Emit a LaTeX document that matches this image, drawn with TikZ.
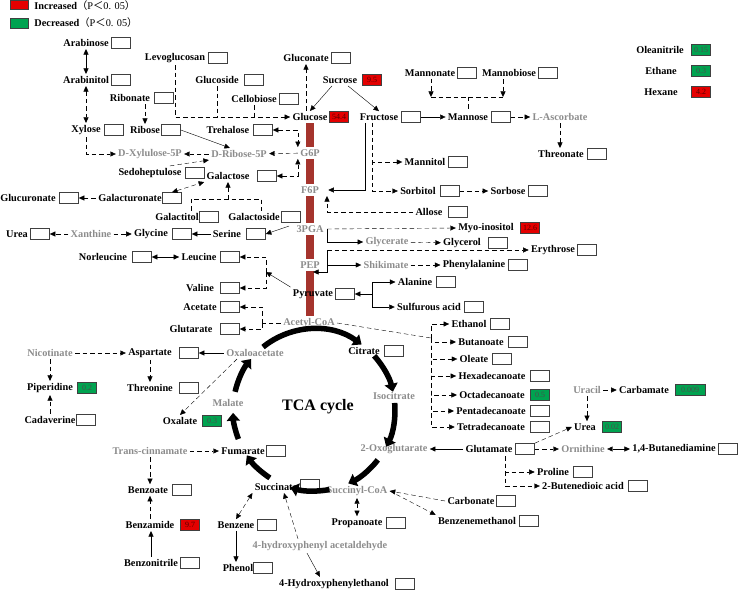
\documentclass[tikz,border=0pt]{standalone}
\usepackage{fontspec}
\setmainfont{Liberation Serif}
\newfontfamily\cjk{Noto Sans CJK SC}
\usetikzlibrary{arrows.meta,calc}
\pgfdeclarelayer{back}
\pgfsetlayers{back,main}

\definecolor{upred}{RGB}{228,0,0}
\definecolor{downgreen}{RGB}{0,163,80}
\definecolor{barred}{RGB}{165,52,45}

\tikzset{
  met/.style={font=\bfseries\fontsize{10.3}{12}\selectfont, inner sep=2pt},
  inter/.style={met, text=black!45},
  val/.style={draw=black!75, line width=0.6pt, minimum width=19pt, minimum height=11pt, inner sep=1pt, font=\fontsize{8}{9}\selectfont},
  up/.style={val, fill=upred, text=red!35!black},
  down/.style={val, fill=downgreen, text=black!70},
  dsh/.style={dash pattern=on 4.5pt off 3pt},
  bar/.style={line width=8pt, draw=barred},
  tca/.style={line width=5.5pt, -{Triangle[length=8pt,width=13pt]}},
}

\begin{document}
\begin{tikzpicture}[x=1pt,y=-1pt,line width=0.85pt,>={Triangle[length=5.5pt,width=5pt]}]
  \useasboundingbox (0,0) rectangle (739,591);
  % legend
  \node[up,minimum width=18pt,minimum height=9pt] (incsw) at (19,5) {};
  \node[met,anchor=west] (inc) at (32,6) {Increased{\mdseries{\cjk （}P{\cjk ＜}0. 05{\cjk ）}}};
  \node[down,minimum width=18pt,minimum height=10pt] (decsw) at (19,23) {};
  \node[met,anchor=west] (dec) at (32,23) {Decreased{\mdseries{\cjk （}P{\cjk ＜}0. 05{\cjk ）}}};
  % sugars
  \node[met] (arab) at (86,43) {Arabinose};
  \node[val] (arabv) at (121,43) {};
  \node[met] (levo) at (175,58) {Levoglucosan};
  \node[val] (levov) at (218,58) {};
  \node[met] (arabol) at (86,80) {Arabinitol};
  \node[val] (arabolv) at (121,80) {};
  \node[met] (glcs) at (217,80) {Glucoside};
  \node[val] (glcsv) at (254,80) {};
  \node[met] (ribn) at (130,98) {Ribonate};
  \node[val] (ribnv) at (164,98) {};
  \node[met] (cello) at (254,99) {Cellobiose};
  \node[val] (cellov) at (289,99) {};
  \node[met] (xyl) at (86,130) {Xylose};
  \node[val] (xylv) at (114,130) {};
  \node[met] (rib) at (145,130) {Ribose};
  \node[val] (ribv) at (171,130) {};
  \node[met] (treh) at (228,130) {Trehalose};
  \node[val] (trehv) at (263,130) {};
  \node[met] (glcn) at (306,58) {Gluconate};
  \node[val] (glcnv) at (341,58) {};
  \node[met] (suc) at (340,80) {Sucrose};
  \node[up] (sucv) at (372,80) {9.5};
  \node[met] (glc) at (310,117) {Glucose};
  \node[up] (glcv) at (339,117) {54.4};
  \node[met] (fru) at (379,117) {Fructose};
  \node[val] (fruv) at (411,117) {};
  \node[met] (man) at (468,117) {Mannose};
  \node[val] (manv) at (501,117) {};
  \node[inter] (asc) at (560,117) {L-Ascorbate};
  \node[met] (mann) at (430,73) {Mannonate};
  \node[val] (mannv) at (467,73) {};
  \node[met] (manb) at (509,73) {Mannobiose};
  \node[val] (manbv) at (548,73) {};
  \node[met] (thrn) at (561,154) {Threonate};
  \node[val] (thrnv) at (597,154) {};
  \node[met] (olea) at (660,50) {Oleanitrile};
  \node[down] (oleav) at (701,50) {0.15};
  \node[met] (eth) at (661,71) {Ethane};
  \node[down] (ethv) at (701,71) {0.3};
  \node[met] (hex) at (661,92) {Hexane};
  \node[up] (hexv) at (701,92) {4.2};
  % glycolysis
  \node[inter] (g6p) at (310,153) {G6P};
  \node[inter] (f6p) at (310,190) {F6P};
  \node[inter] (pga) at (310,229) {3PGA};
  \node[inter] (pep) at (310,265) {PEP};
  \node[inter] (acoa) at (309,323) {Acetyl-CoA};
  \node[inter] (xu5p) at (150,154) {D-Xylulose-5P};
  \node[inter] (r5p) at (239,154) {D-Ribose-5P};
  \node[met] (sedo) at (150,173) {Sedoheptulose};
  \node[val] (sedov) at (195,173) {};
  \node[met] (gal) at (228,176) {Galactose};
  \node[val] (galv) at (267,176) {};
  \node[met] (glcu) at (28,198) {Glucuronate};
  \node[val] (glcuv) at (69,198) {};
  \node[met] (galu) at (130,198) {Galacturonate};
  \node[val] (galuv) at (172,198) {};
  \node[met] (galol) at (177,217) {Galactitol};
  \node[val] (galolv) at (209,217) {};
  \node[met] (gals) at (254,217) {Galactoside};
  \node[val] (galsv) at (291,217) {};
  \node[met] (mtol) at (425,162) {Mannitol};
  \node[val] (mtolv) at (458,162) {};
  \node[met] (stol) at (418,191) {Sorbitol};
  \node[val] (stolv) at (450,191) {};
  \node[met] (sorb) at (508,191) {Sorbose};
  \node[val] (sorbv) at (538,191) {};
  \node[met] (allo) at (429,212) {Allose};
  \node[val] (allov) at (458,212) {};
  % amino acids
  \node[met] (ser) at (227,234) {Serine};
  \node[val] (serv) at (256,234) {};
  \node[met] (gly) at (151,234) {Glycine};
  \node[val] (glyv) at (182,234) {};
  \node[inter] (xan) at (91,234) {Xanthine};
  \node[met] (urea) at (17,234) {Urea};
  \node[val] (ureav) at (40,234) {};
  \node[met] (nleu) at (103,257) {Norleucine};
  \node[val] (nleuv) at (142,257) {};
  \node[met] (leu) at (199,257) {Leucine};
  \node[val] (leuv) at (230,257) {};
  \node[met] (vali) at (200,288) {Valine};
  \node[val] (valiv) at (230,288) {};
  \node[met] (acet) at (200,307) {Acetate};
  \node[val] (acetv) at (230,307) {};
  \node[met] (glut) at (191,329) {Glutarate};
  \node[val] (glutv) at (230,329) {};
  \node[met] (pyr) at (313,294) {Pyruvate};
  \node[val] (pyrv) at (345,294) {};
  \node[met] (myo) at (486,228) {Myo-inositol};
  \node[up] (myov) at (530,228) {12.6};
  \node[inter] (glyc) at (387,242) {Glycerate};
  \node[met] (glyl) at (462,243) {Glycerol};
  \node[val] (glylv) at (498,243) {};
  \node[met] (ery) at (553,250) {Erythrose};
  \node[val] (eryv) at (587,250) {};
  \node[inter] (shik) at (386,265) {Shikimate};
  \node[met] (phe) at (474,265) {Phenylalanine};
  \node[val] (phev) at (518,265) {};
  \node[met] (ala) at (415,282) {Alanine};
  \node[val] (alav) at (446,282) {};
  \node[met] (sulf) at (429,307) {Sulfurous acid};
  \node[val] (sulfv) at (474,307) {};
  % fatty acids
  \node[met] (etoh) at (469,324) {Ethanol};
  \node[val] (etohv) at (500,324) {};
  \node[met] (buta) at (481,342) {Butanoate};
  \node[val] (butav) at (518,342) {};
  \node[met] (olet) at (474,359) {Oleate};
  \node[val] (oletv) at (502,359) {};
  \node[met] (c16) at (492,376) {Hexadecanoate};
  \node[val] (c16v) at (540,376) {};
  \node[met] (c18) at (492,395) {Octadecanoate};
  \node[down] (c18v) at (540,395) {0.5};
  \node[met] (c15) at (491,411) {Pentadecanoate};
  \node[val] (c15v) at (540,411) {};
  \node[met] (c14) at (491,427) {Tetradecanoate};
  \node[val] (c14v) at (540,427) {};
  % TCA cycle
  \node[met] (cit) at (364,351) {Citrate};
  \node[val] (citv) at (394,351) {};
  \node[inter] (icit) at (394,396) {Isocitrate};
  \node[inter] (oxg) at (394,449) {2-Oxoglutarate};
  \node[met] (glu) at (489,449) {Glutamate};
  \node[val] (gluv) at (525,449) {};
  \node[inter] (orn) at (583,449) {Ornithine};
  \node[met] (put) at (674,449) {1,4-Butanediamine};
  \node[val] (putv) at (728,449) {};
  \node[met] (pro) at (553,472) {Proline};
  \node[val] (prov) at (583,472) {};
  \node[met] (bda) at (583,486) {2-Butenedioic acid};
  \node[val] (bdav) at (638,486) {};
  \node[met] (urea2) at (585,427) {Urea};
  \node[down] (urea2v) at (612,427) {0.02};
  \node[inter] (ura) at (587,390) {Uracil};
  \node[met] (carb) at (644,390) {Carbamate};
  \node[down,minimum width=30pt] (carbv) at (690,390) {0.009};
  \node[inter] (oaa) at (255,353) {Oxaloacetate};
  \node[met] (asp) at (150,353) {Aspartate};
  \node[val] (aspv) at (189,353) {};
  \node[inter] (nic) at (50,353) {Nicotinate};
  \node[met] (pip) at (50,388) {Piperidine};
  \node[down] (pipv) at (87,388) {0.2};
  \node[met] (cad) at (50,420) {Cadaverine};
  \node[val] (cadv) at (86,420) {};
  \node[met] (thr) at (150,388) {Threonine};
  \node[val] (thrv) at (189,388) {};
  \node[met] (oxa) at (180,421) {Oxalate};
  \node[down] (oxav) at (212,421) {0.3};
  \node[inter] (mal) at (228,403) {Malate};
  \node[met,font=\bfseries\fontsize{16}{18}\selectfont] (tcal) at (318,407) {TCA cycle};
  \node[inter] (cinn) at (150,451) {Trans-cinnamate};
  \node[met] (fum) at (243,451) {Fumarate};
  \node[val] (fumv) at (276,451) {};
  \node[met] (bzt) at (148,490) {Benzoate};
  \node[val] (bztv) at (182,490) {};
  \node[met] (bzm) at (150,525) {Benzamide};
  \node[up] (bzmv) at (190,525) {9.7};
  \node[met] (bzn) at (151,563) {Benzonitrile};
  \node[val] (bznv) at (190,563) {};
  \node[met] (succ) at (276,487) {Succinate};
  \node[val] (succv) at (310,485) {};
  \node[inter] (scoa) at (357,491) {Succinyl-CoA};
  \node[met] (bzl) at (236,525) {Benzene};
  \node[val] (bzlv) at (267,525) {};
  \node[met] (phen) at (238,568) {Phenol};
  \node[val] (phenv) at (263,568) {};
  \node[inter] (hpa) at (320,546) {4-hydroxyphenyl acetaldehyde};
  \node[met] (hpe) at (334,584) {4-Hydroxyphenylethanol};
  \node[val] (hpev) at (405,584) {};
  \node[met] (prop) at (357,523) {Propanoate};
  \node[val] (propv) at (396,523) {};
  \node[met] (carbo) at (471,501) {Carbonate};
  \node[val] (carbov) at (506,501) {};
  \node[met] (bzoh) at (477,521) {Benzenemethanol};
  \node[val] (bzohv) at (529,521) {};

  % glycolysis bar
  \begin{pgfonlayer}{back}
    \draw[bar] (glc.south) -- (g6p.north);
    \draw[bar] (g6p.south) -- (f6p.north);
    \draw[bar] (f6p.south) -- (pga.north);
    \draw[bar] (pga.south) -- (pep.north);
    \draw[bar] (pep.south) -- (pep.south |- acoa.north);
  \end{pgfonlayer}

  % sugar connectors
  \draw[<->] (arab) -- (arabol);
  \draw[<->,dsh] (arabol) -- (xyl);
  \draw[->,dsh] (xyl.south) |- (xu5p.west);
  \draw[->,dsh] (rib.north |- ribn.south) -- (rib.north);
  \draw[->] (ribv.east) -- ($(r5p.north west)!.35!(r5p.north east)$);
  \draw[->,dsh] (levo.south) |- (glc.west);
  \draw[dsh] (glcs.south) -- (glcs.south |- glc.west);
  \draw[dsh] (cello.south) -- (cello.south |- glc.west);
  \draw[->,dsh] (glcn.south |- glc.north) -- (glcn.south);
  \draw[->] ($(suc.south)+(-8,0)$) -- (glc.north);
  \draw[->] ($(suc.south)+(8,0)$) -- (fru.north);
  \draw[->] (fruv) -- (man);
  \draw[->,dsh] (manv) -- (asc);
  \draw[->,dsh] (asc.south) -- (asc.south |- thrn.north);
  \coordinate (mj1) at (431,97);
  \coordinate (mj2) at (503,97);
  \draw[->,dsh] (mj1 |- mann.south) -- (mj1);
  \draw[->,dsh] (mj2 |- manb.south) -- (mj2);
  \draw[dsh] (mj1) -- (mj2);
  \draw[dsh] (mj1 -| man.north) -- (man.north);
  \draw[->,dsh] (g6p) -- (r5p);
  \draw[->,dsh] (r5p) -- (xu5p);
  \draw[<->,dsh] (trehv.east) -| (g6p.north west);
  \draw[<->,dsh] (galv.east) -| (g6p.south west);
  \draw[->,dsh] ($(sedo.north east)+(-14,0)$) -- (r5p.south west);
  \draw[<->,dsh] (galuv.north) -- (gal.south west);
  \draw[->,dsh] (galu) -- (glcuv);
  \coordinate (gj1) at (191,199);
  \coordinate (gj2) at (261,199);
  \draw[dsh] (gj1 |- galol.north) -- (gj1) -- (gj2) -- (gj2 |- gals.north);
  \draw[->,dsh] (gj1 -| gal.south) -- (gal.south);
  \draw[->] ($(fru.south)+(-14,0)$) |- ($(f6p.east)+(7,0)$);
  \draw[->,dsh] ($(fru.south)+(-7,0)$) |- (mtol.west);
  \draw[->,dsh] ($(fru.south)+(-7,0)$) |- (stol.west);
  \draw[->,dsh] (stolv) -- (sorb);
  \coordinate (f6pin) at (327,196);
  \draw[->,dsh] (allo.west) -| (f6pin);

  % 3PGA, PEP, pyruvate
  \draw[->] ($(pga.west)+(-5,-3)$) -- (serv.east);
  \draw[->] (ser) -- (glyv);
  \draw[->,dsh] (xan) -- (gly);
  \draw[->,dsh] (xan) -- (ureav);
  \draw[<->] (nleuv) -- (leu);
  \coordinate (pj) at (327,229);
  \draw[->,dsh] (pj) -- (myo.west);
  \draw[->] (pj) |- (glyc.west);
  \draw[->,dsh] (glyc) -- (glyl);
  \coordinate (ej) at (327,250);
  \coordinate (pepin) at (313,272);
  \draw[->,dsh] (ej) -- (ery.west);
  \draw[->] (ej) |- (shik.west);
  \draw[->] (ej) |- (pepin);
  \draw[->,dsh] (shik) -- (phe);
  \coordinate (lvj) at (266,272);
  \draw[->] (pyr.north west) -- (lvj);
  \draw[->,dsh] (lvj) |- (leuv.east);
  \draw[->,dsh] (lvj) |- (valiv.east);
  \coordinate (aj) at (372,294);
  \draw[->] (aj) -- (pyrv.east);
  \draw[->] (aj) |- (ala.west);
  \draw[->] (aj) |- (sulf.west);
  \coordinate (agj) at (262,323);
  \draw[dsh] (acoa.west) -- (agj);
  \draw[->,dsh] (agj) |- (acetv.east);
  \draw[->,dsh] (agj) |- (glutv.east);
  \coordinate (faj) at (431,338);
  \draw[dsh] (acoa.east) -- (faj);
  \foreach \fa in {etoh,buta,olet,c16,c18,c15,c14}
    \draw[->,dsh] (faj) |- (\fa.west);

  % around the cycle
  \draw[->] (glu) -- (oxg);
  \draw[->,dsh] (gluv) -- (orn);
  \draw[<->] (orn) -- (put);
  \coordinate (gj) at (505,456);
  \draw[->,dsh] (gj) |- (pro.west);
  \draw[->,dsh] (gj) |- (bda.west);
  \draw[->,dsh] (gluv.north east) -- (urea2.west);
  \draw[->,dsh] (ura) -- (carb);
  \draw[->,dsh] (ura.south) -- (ura.south |- urea2.north);
  \draw[->] (oaa) -- (aspv);
  \draw[->,dsh] (nic) -- (asp);
  \draw[->,dsh] (nic) -- (pip);
  \draw[->,dsh] (cad) -- (pip);
  \draw[->,dsh] (asp) -- (thr);
  \draw[->,dsh] ($(oaa.south west)+(13,0)$) -- (oxa.north);
  \draw[->,dsh] (cinn) -- (fum);
  \draw[->,dsh] (cinn.south) -- (cinn.south |- bzt.north);
  \draw[->,dsh] (bzm.north) -- (bzm.north |- bzt.south);
  \draw[->] (bzn.north) -- (bzn.north |- bzm.south);
  \draw[<->,dsh] (succ.south west) -- (bzl.north);
  \draw[->] (bzl.south) -- (bzl.south |- phen.north);
  \draw[->,dsh] ($(hpa.north)+(-22,0)$) -- ($(succ.south)+(8,0)$);
  \draw[->] ($(hpa.south)+(-13,0)$) -- ($(hpe.north)+(-14,0)$);
  \draw[<->,dsh] (scoa) -- (prop);
  \draw[->,dsh] (carbo.west) -- (scoa.east);
  \draw[->,dsh] (scoa.east) -- (bzoh.north west);

  % TCA arrows
  \coordinate (tca) at (314,410);
  \foreach \s/\e in {129/54,42/13,5/-27,-38/-65,-79/-107,-123/-146,-159/-178,167/141}
    \draw[tca] ($(tca)+(\s:81pt)$) arc[start angle=\s,end angle=\e,radius=81pt];
\end{tikzpicture}
\end{document}
